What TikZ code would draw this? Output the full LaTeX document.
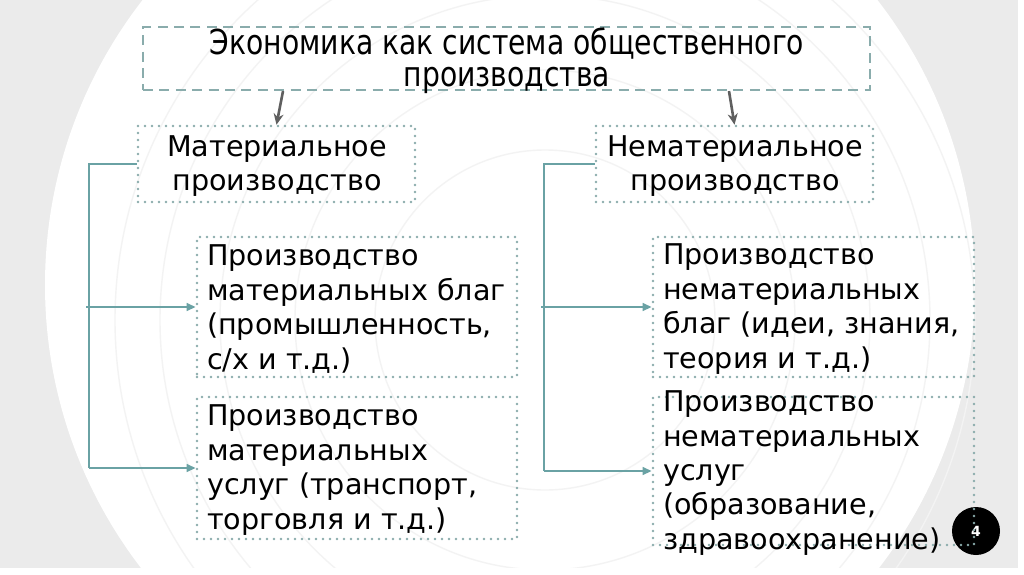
\documentclass[tikz,border=0pt]{standalone}
\usepackage{fontspec}
\setmainfont{DejaVu Sans}
\newfontfamily\titlefont[FakeStretch=0.82]{DejaVu Sans}
\usetikzlibrary{arrows.meta,calc}
\definecolor{bggray}{HTML}{EBEBEB}
\definecolor{ringgray}{HTML}{F3F3F3}
\definecolor{boxline}{HTML}{8AACAC}
\definecolor{conncol}{HTML}{6AA2A4}
\definecolor{arrowgray}{HTML}{5F5F5F}
\tikzset{
  dotbox/.style={draw=boxline, line width=1.3pt, dash pattern=on 0pt off 3.5pt, line cap=round, inner sep=0pt, fill=none},
  dashbox/.style={draw=boxline, line width=1.1pt, dash pattern=on 5pt off 3.2pt, inner sep=0pt},
  conn/.style={draw=conncol, line width=1.1pt},
  conntip/.style={conn, -{Triangle[length=4.5pt,width=3.8pt]}},
  grayarrow/.style={draw=arrowgray, line width=1.3pt, -{Stealth[length=5.5pt,width=5pt]}},
  bodytxt/.style={inner sep=0pt, align=left, font=\fontsize{14.3}{17.2}\selectfont, text=black},
  centertxt/.style={inner sep=0pt, align=center, font=\fontsize{14.3}{17}\selectfont, text=black},
  titletxt/.style={inner sep=0pt, align=center, font=\titlefont\fontsize{17.2}{16}\selectfont, text=black}
}
\begin{document}
\begin{tikzpicture}[x=0.5pt,y=-0.5pt]
\useasboundingbox (0,0) rectangle (1024,574);
\fill[bggray] (0,0) rectangle (1024,574);
\begin{scope}
  \clip (0,0) rectangle (1018,568);
  \fill[white] (510,285) circle[radius=465];
  \foreach \r in {430,385,325,250,170}
    \draw[ringgray, line width=0.7pt] (545,320) circle[radius=\r];
\end{scope}
\fill[white] (1018,0) rectangle (1024,574);
\fill[white] (0,568) rectangle (1024,574);

% page number
\node[circle, fill=black, minimum size=24pt, inner sep=0pt, text=white, font=\bfseries\fontsize{7}{8}\selectfont] (pg) at (976,531) {4};

% boxes
\node[dashbox, minimum width=363.5pt, minimum height=31.5pt] (top) at (506.5,58.5) {};
\node[titletxt] (toptxt) at (507,61) {Экономика как система общественного\\производства};

\node[dotbox, minimum width=138.5pt, minimum height=38pt] (mat) at (276.5,164) {};
\node[centertxt] (mattxt) at (277,166) {Материальное\\производство};

\node[dotbox, minimum width=138.5pt, minimum height=38pt] (nemat) at (734.5,164) {};
\node[centertxt] (nemattxt) at (735,166) {Нематериальное\\производство};

\node[dotbox, minimum width=160pt, minimum height=70pt] (mb) at (357,307) {};
\node[bodytxt, anchor=west] (mbtxt) at ($(mb.west)+(11,2)$) {Производство\\материальных благ\\(промышленность,\\с/х и т.д.)};

\node[dotbox, minimum width=160pt, minimum height=71pt] (mu) at (357,468) {};
\node[bodytxt, anchor=west] (mutxt) at ($(mu.west)+(11,2)$) {Производство\\материальных\\услуг (транспорт,\\торговля и т.д.)};

\node[dotbox, minimum width=160.5pt, minimum height=70pt] (nb) at (813.5,307) {};
\node[bodytxt, anchor=west] (nbtxt) at ($(nb.west)+(11,2)$) {Производство\\нематериальных\\благ (идеи, знания,\\теория и т.д.)};

\node[dotbox, minimum width=160.5pt, minimum height=74pt] (nu) at (813.5,471) {};
\node[bodytxt, anchor=west] (nutxt) at ($(nu.west)+(11,2)$) {Производство\\нематериальных\\услуг\\(образование,\\здравоохранение)};

% top arrows
\coordinate (la) at (283,0);
\coordinate (ra) at (729,0);
\draw[grayarrow] (top.south -| la) -- (mat.north);
\draw[grayarrow] (top.south -| ra) -- (nemat.north);

% left connectors
\coordinate (lv) at (89,0);
\coordinate (lm) at (86,0);
\draw[conn] (mat.west) -- (mat.west -| lv) -- (mu.west -| lv);
\draw[conntip] (mu.west -| lv) -- (mu.west);
\draw[conntip] (mb.west -| lm) -- (mb.west);

% right connectors
\coordinate (rv) at (544,0);
\coordinate (rm) at (541,0);
\draw[conn] (nemat.west) -- (nemat.west -| rv) -- (nu.west -| rv);
\draw[conntip] (nu.west -| rv) -- (nu.west);
\draw[conntip] (nb.west -| rm) -- (nb.west);
\end{tikzpicture}
\end{document}
